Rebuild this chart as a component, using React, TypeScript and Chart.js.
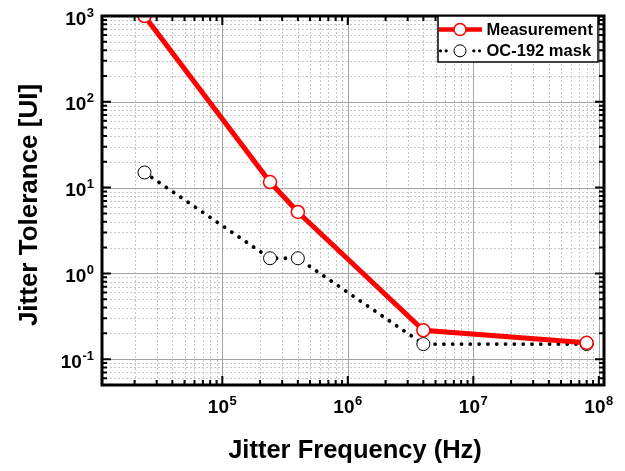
import React, { useEffect, useRef } from 'react';
import { Chart, registerables } from 'chart.js';

Chart.register(...registerables);

// ---- data ----
const frequencies = [2.4e4, 2.4e5, 4e5, 4e6, 8e7];
const measurement = [1000, 11.6, 5.2, 0.217, 0.155];
const ocMask = [15, 1.5, 1.5, 0.15, 0.15];

const seriesNames = ['Measurement', 'OC-192 mask'];
const xTitle = 'Jitter Frequency (Hz)';
const yTitle = 'Jitter Tolerance [UI]';

const xMajorTicks = [1e5, 1e6, 1e7, 1e8];
const xTickExponents = ['5', '6', '7', '8'];
const yMajorTicks = [1e-1, 1, 10, 100, 1000];
const yTickExponents = ['-1', '0', '1', '2', '3'];
const xDecades = [1e4, 1e5, 1e6, 1e7];
const yDecades = [1e-2, 1e-1, 1, 10, 100];
const minorMultipliers = [2, 3, 4, 5, 6, 7, 8, 9];
const xRange = [1.1e4, 1.1e8];
const yRange = [0.05, 1000];

const FONT = "'Liberation Sans', Arial, sans-serif";

function minorValues(decades: number[], range: number[]) {
  const out: number[] = [];
  for (const d of decades) {
    for (const m of minorMultipliers) {
      const v = d * m;
      if (v >= range[0] * 0.999 && v <= range[1] * 1.001) out.push(v);
    }
  }
  return out;
}

function drawPow(ctx: CanvasRenderingContext2D, x: number, baseline: number, exp: string, align: 'center' | 'right') {
  ctx.textAlign = 'left';
  ctx.textBaseline = 'alphabetic';
  ctx.font = `bold 19px ${FONT}`;
  const w1 = ctx.measureText('10').width;
  ctx.font = `bold 13px ${FONT}`;
  const w2 = ctx.measureText(exp).width;
  const total = w1 + w2 + 0.5;
  const start = align === 'center' ? x - total / 2 : x - total;
  ctx.font = `bold 19px ${FONT}`;
  ctx.fillText('10', start, baseline);
  ctx.font = `bold 13px ${FONT}`;
  ctx.fillText(exp, start + w1 + 0.5, baseline - 8);
}

const decorPlugin = {
  id: 'decor',
  beforeDatasetsDraw(chart: any) {
    const { ctx, chartArea: a, scales } = chart;
    const xs = scales.x;
    const ys = scales.y;
    ctx.save();
    ctx.lineWidth = 1;
    // minor grid
    ctx.strokeStyle = '#c8c8c8';
    ctx.setLineDash([2, 2]);
    ctx.beginPath();
    for (const v of minorValues(xDecades, xRange)) {
      const px = Math.round(xs.getPixelForValue(v)) + 0.5;
      ctx.moveTo(px, a.top);
      ctx.lineTo(px, a.bottom);
    }
    for (const v of minorValues(yDecades, yRange)) {
      const py = Math.round(ys.getPixelForValue(v)) + 0.5;
      ctx.moveTo(a.left, py);
      ctx.lineTo(a.right, py);
    }
    ctx.stroke();
    // major grid
    ctx.setLineDash([]);
    ctx.strokeStyle = '#a4a4a4';
    ctx.beginPath();
    for (const v of xMajorTicks) {
      const px = Math.round(xs.getPixelForValue(v)) + 0.5;
      ctx.moveTo(px, a.top);
      ctx.lineTo(px, a.bottom);
    }
    for (const v of yMajorTicks) {
      const py = Math.round(ys.getPixelForValue(v)) + 0.5;
      ctx.moveTo(a.left, py);
      ctx.lineTo(a.right, py);
    }
    ctx.stroke();
    ctx.restore();
  },
  afterDatasetsDraw(chart: any) {
    const { ctx, chartArea: a, scales } = chart;
    const xs = scales.x;
    const ys = scales.y;
    ctx.save();
    // ticks (inward, all four sides)
    ctx.strokeStyle = '#000';
    ctx.lineWidth = 2;
    ctx.beginPath();
    const xTick = (v: number, len: number) => {
      const px = xs.getPixelForValue(v);
      ctx.moveTo(px, a.bottom);
      ctx.lineTo(px, a.bottom - len);
      ctx.moveTo(px, a.top);
      ctx.lineTo(px, a.top + len);
    };
    const yTick = (v: number, len: number) => {
      const py = ys.getPixelForValue(v);
      ctx.moveTo(a.left, py);
      ctx.lineTo(a.left + len, py);
      ctx.moveTo(a.right, py);
      ctx.lineTo(a.right - len, py);
    };
    for (const v of minorValues(xDecades, xRange)) xTick(v, 5);
    for (const v of xMajorTicks) xTick(v, 9);
    for (const v of minorValues(yDecades, yRange)) yTick(v, 5);
    for (const v of yMajorTicks) yTick(v, 9);
    ctx.stroke();
    // frame
    ctx.lineWidth = 3;
    ctx.strokeRect(a.left, a.top, a.right - a.left, a.bottom - a.top);

    // tick labels
    ctx.fillStyle = '#000';
    xMajorTicks.forEach((v, i) => {
      drawPow(ctx, xs.getPixelForValue(v), a.bottom + 28, xTickExponents[i], 'center');
    });
    yMajorTicks.forEach((v, i) => {
      drawPow(ctx, a.left - 8, ys.getPixelForValue(v) + 8.5, yTickExponents[i], 'right');
    });

    // axis titles
    ctx.font = `bold 25.5px ${FONT}`;
    ctx.textAlign = 'center';
    ctx.textBaseline = 'alphabetic';
    ctx.fillText(xTitle, (a.left + a.right) / 2 + 2, a.bottom + 73);
    ctx.save();
    ctx.translate(a.left - 65, (a.top + a.bottom) / 2 + 4.5);
    ctx.rotate(-Math.PI / 2);
    ctx.font = `bold 26px ${FONT}`;
    ctx.fillText(yTitle, 0, 0);
    ctx.restore();

    // legend
    const bx = a.right - 166;
    const by = a.top;
    const bw = 160;
    const bh = 46;
    ctx.fillStyle = '#fff';
    ctx.fillRect(bx, by, bw, bh);
    ctx.strokeStyle = '#000';
    ctx.lineWidth = 1.5;
    ctx.strokeRect(bx, by, bw, bh);
    const rows = [by + 13.5, by + 34.8];
    // row 1: measurement
    ctx.strokeStyle = '#ff0000';
    ctx.lineWidth = 4.5;
    ctx.beginPath();
    ctx.moveTo(bx + 1, rows[0]);
    ctx.lineTo(bx + 44, rows[0]);
    ctx.stroke();
    ctx.beginPath();
    ctx.arc(bx + 22, rows[0], 6, 0, Math.PI * 2);
    ctx.fillStyle = '#fff';
    ctx.fill();
    ctx.lineWidth = 1.5;
    ctx.stroke();
    // row 2: mask (dotted sample)
    ctx.fillStyle = '#000';
    for (const off of [2.5, 8.2, 35.8, 41.5]) {
      ctx.beginPath();
      ctx.arc(bx + off, rows[1], 1.6, 0, Math.PI * 2);
      ctx.fill();
    }
    ctx.strokeStyle = '#000';
    ctx.beginPath();
    ctx.arc(bx + 22, rows[1], 6, 0, Math.PI * 2);
    ctx.fillStyle = '#fff';
    ctx.fill();
    ctx.lineWidth = 1;
    ctx.stroke();
    // legend text
    ctx.fillStyle = '#000';
    ctx.font = `bold 16.5px ${FONT}`;
    ctx.textAlign = 'left';
    ctx.textBaseline = 'middle';
    ctx.fillText(seriesNames[0], bx + 48.5, rows[0] + 0.5);
    ctx.fillText(seriesNames[1], bx + 48.5, rows[1] + 0.5);
    ctx.restore();
  },
};

export default function App() {
  const canvasRef = useRef<HTMLCanvasElement | null>(null);

  useEffect(() => {
    document.body.style.margin = '0';
    const canvas = canvasRef.current;
    if (!canvas) return;
    const chart = new Chart(canvas, {
      type: 'line',
      data: {
        datasets: [
          {
            label: seriesNames[0],
            data: frequencies.map((f, i) => ({ x: f, y: measurement[i] })),
            borderColor: '#ff0000',
            borderWidth: 5,
            pointRadius: 6.5,
            pointBorderWidth: 1.5,
            pointBackgroundColor: '#ffffff',
            pointBorderColor: '#ff0000',
            tension: 0,
            clip: 0,
          },
          {
            label: seriesNames[1],
            data: frequencies.map((f, i) => ({ x: f, y: ocMask[i] })),
            borderColor: '#000000',
            borderWidth: 3.8,
            borderDash: [0.01, 8.8],
            borderCapStyle: 'round',
            pointRadius: 6.5,
            pointBorderWidth: 1,
            pointBackgroundColor: '#ffffff',
            pointBorderColor: '#000000',
            tension: 0,
            clip: 0,
          },
        ],
      } as any,
      options: {
        responsive: false,
        animation: false,
        devicePixelRatio: 1,
        events: [],
        layout: { padding: { left: 102, top: 16, right: 21, bottom: 86 } },
        plugins: { legend: { display: false }, tooltip: { enabled: false } },
        scales: {
          x: { type: 'logarithmic', display: false, min: xRange[0], max: xRange[1] },
          y: { type: 'logarithmic', display: false, min: yRange[0], max: yRange[1] },
        },
      } as any,
      plugins: [decorPlugin],
    });
    return () => chart.destroy();
  }, []);

  return (
    <div style={{ width: 625, height: 471 }}>
      <canvas ref={canvasRef} width={625} height={471} style={{ display: 'block' }} />
    </div>
  );
}
